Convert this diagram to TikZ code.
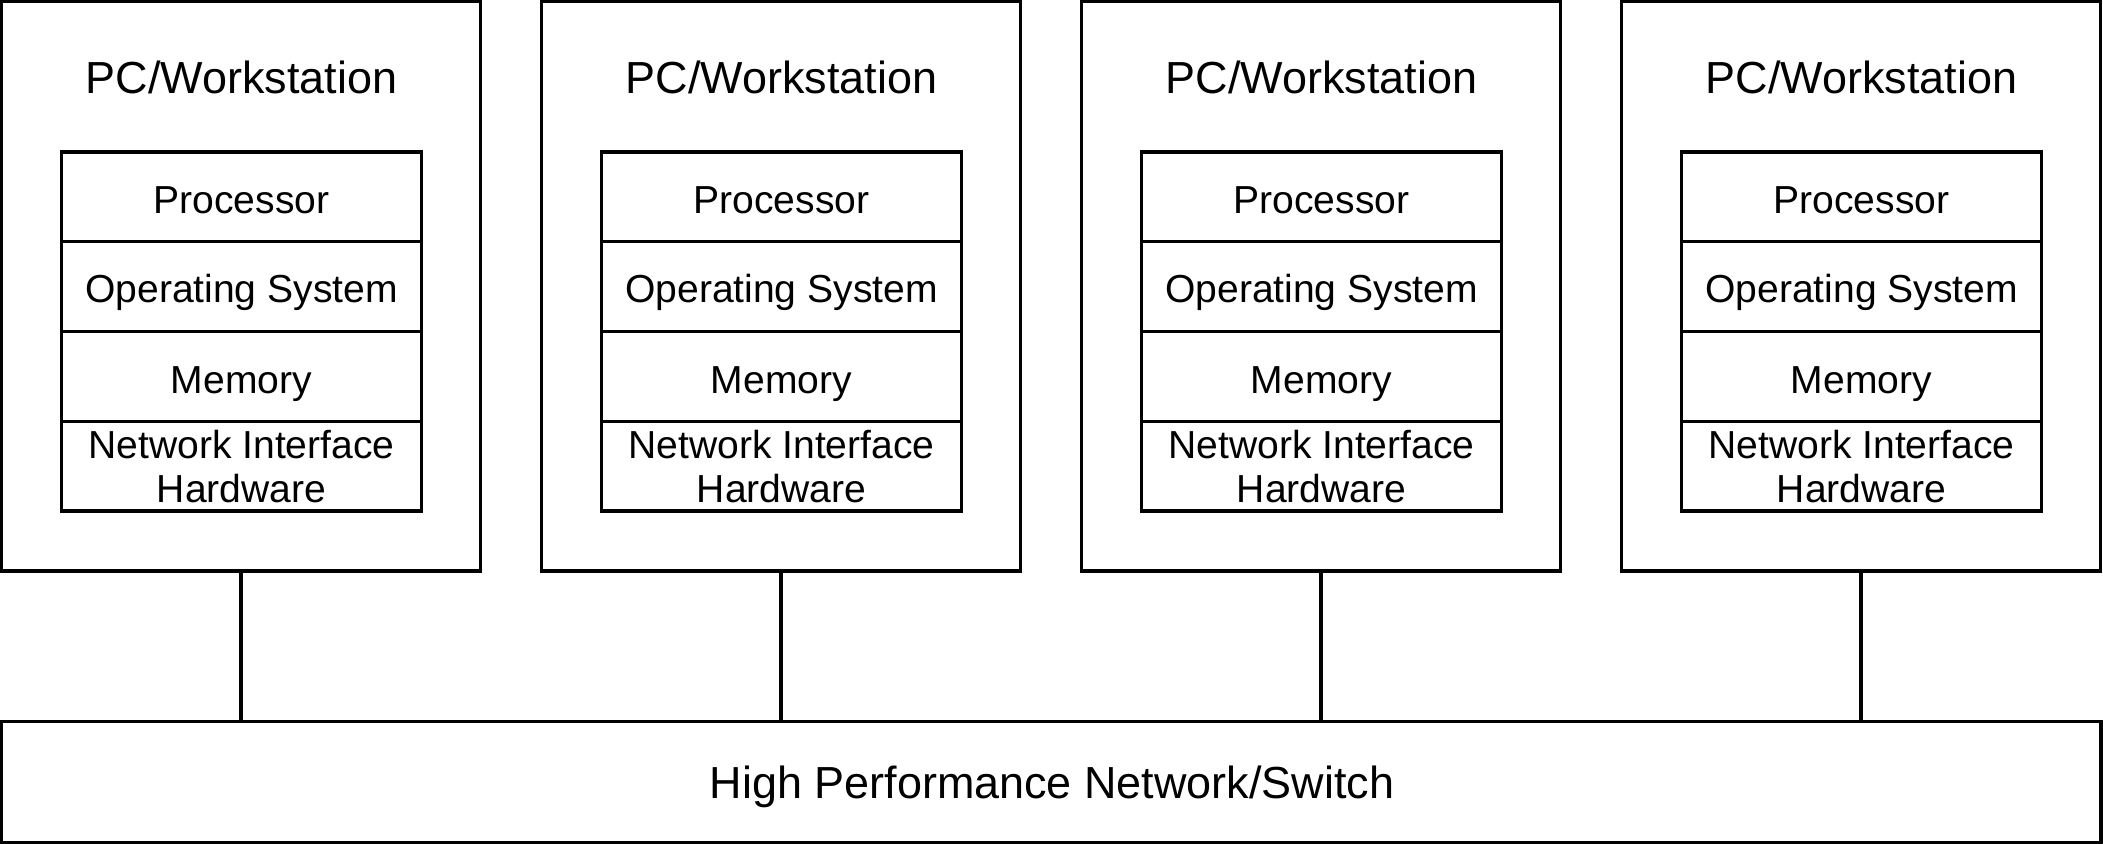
\documentclass[tikz,border=0pt]{standalone}
\usepackage{fontspec}
\setmainfont{Liberation Sans}
\begin{document}
\begin{tikzpicture}[x=0.75pt,y=-0.75pt,
  frame/.style={draw, line width=2.3pt, inner sep=0pt, outer sep=0pt, anchor=north west},
  pcbox/.style={frame, minimum width=359.25pt, minimum height=427.1pt},
  cell/.style={frame, minimum width=270pt, minimum height=67.3pt},
  bigbar/.style={frame, minimum width=1574.6pt, minimum height=90.4pt},
  titletext/.style={inner sep=0pt, anchor=base, font=\fontsize{33.7}{40}\selectfont},
  celltext/.style={inner sep=0pt, anchor=base, align=center, font=\fontsize{29.3}{33}\selectfont},
  bartext/.style={inner sep=0pt, anchor=base, font=\fontsize{33.7}{40}\selectfont},
  link/.style={line width=2.3pt}]
\useasboundingbox (0,0) rectangle (2103,843);
\fill[white] (0,0) rectangle (2103,843);
\node[bigbar] (bar) at (1.5,721.5) {};
\node[bartext] (bart) at (1052,798) {High Performance Network/Switch};
\foreach \i/\x in {1/1.5,2/541.5,3/1081.5,4/1621.5}{
  \node[pcbox] (pc\i) at (\x,1.5) {};
  \node[titletext] (title\i) at (\x+240,93) {PC/Workstation};
  \node[cell] (proc\i) at (\x+60,152) {};
  \node[cell] (os\i) at (\x+60,241.75) {};
  \node[cell] (mem\i) at (\x+60,331.5) {};
  \node[cell] (nic\i) at (\x+60,421.25) {};
  \node[celltext] (proct\i) at (\x+240,213) {Processor};
  \node[celltext] (ost\i) at (\x+240,302) {Operating System};
  \node[celltext] (memt\i) at (\x+240,393) {Memory};
  \node[celltext] (nict\i) at (\x+240,502) {Network Interface\\Hardware};
  \draw[link] (pc\i.south) -- (pc\i.south |- bar.north);
}
\end{tikzpicture}
\end{document}
